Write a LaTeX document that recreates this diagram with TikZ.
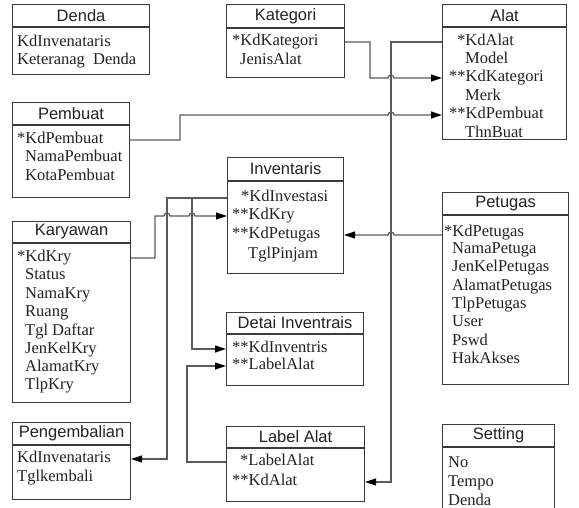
\documentclass[tikz,border=0pt]{standalone}
\usepackage{fontspec}
\setmainfont{Liberation Serif}
\newfontfamily\hdrfont{Liberation Sans}
\usetikzlibrary{arrows.meta,calc}

\definecolor{boxc}{HTML}{3A3A3A}
\definecolor{linec}{HTML}{5A5A5A}
\definecolor{txtc}{HTML}{222222}

\tikzset{
  ent/.style={draw=boxc, line width=1.1pt, inner sep=0pt, anchor=north west, fill=white},
  rule/.style={draw=boxc, line width=1.1pt},
  hdr/.style={font=\hdrfont\fontsize{16.5}{18}\selectfont, text=txtc, inner sep=0pt},
  fld/.style={font=\fontsize{16.5}{18}\selectfont, text=txtc, anchor=west, inner sep=0pt,
              text height=11pt, text depth=4pt},
  conn/.style={draw=linec, line width=1.2pt},
  tip/.style={-{Triangle[length=11pt,width=7pt,color=black]}}
}

% table box: name, left, top, width, height, header height, title
\newcommand\erbox[7]{%
  \node[ent, minimum width=#4, minimum height=#5] (#1) at (#2,#3) {};
  \draw[rule] ([yshift=-#6pt]#1.north west) -- ([yshift=-#6pt]#1.north east);
  \node[hdr] (#1-title) at ($(#1.north)+(0,#6/2)$) {#7};
}

\begin{document}
\begin{tikzpicture}[x=1pt,y=-1pt]
\useasboundingbox (0,0) rectangle (579,508);
\fill[white] (0,0) rectangle (579,508);

% x positions of the vertical connector runs
\coordinate (xK)  at (370,0);
\coordinate (xA)  at (391,0);
\coordinate (xP)  at (180,0);
\coordinate (xKr) at (155,0);
\coordinate (xI1) at (167,0);
\coordinate (xI2) at (192,0);
\coordinate (xL)  at (187,0);

% ---------- tables ----------
\erbox{denda}{12}{4}{137}{70}{23}{Denda}
\node[fld] (den1) at (17,43) {KdInvenataris};
\node[fld] (den2) at (17,61) {Keteranag\ \ Denda};

\erbox{kategori}{226}{4}{118}{73}{24}{Kategori}
\node[fld] (kat1) at (232,42) {*KdKategori};
\node[fld] (kat2) at (240,61) {JenisAlat};

\erbox{alat}{442}{4}{124}{135}{23}{Alat}
\node[fld] (alat1) at (457,42)  {*KdAlat};
\node[fld] (alat2) at (465,60)  {Model};
\node[fld] (alat3) at (449,78)  {**KdKategori};
\node[fld] (alat4) at (465,97)  {Merk};
\node[fld] (alat5) at (449,115) {**KdPembuat};
\node[fld] (alat6) at (465,134) {ThnBuat};

\erbox{pembuat}{12}{102}{117}{95}{23}{Pembuat}
\node[fld] (pem1) at (17,140) {*KdPembuat};
\node[fld] (pem2) at (25,158) {NamaPembuat};
\node[fld] (pem3) at (25,177) {KotaPembuat};

\erbox{inventaris}{227}{157}{116}{116}{24}{Inventaris}
\node[fld] (inv1) at (241,198) {*KdInvestasi};
\node[fld] (inv2) at (232,216) {**KdKry};
\node[fld] (inv3) at (232,235) {**KdPetugas};
\node[fld] (inv4) at (248,255) {TglPinjam};

\erbox{karyawan}{12}{221}{118}{181}{22}{Karyawan}
\node[fld] (kar1) at (17,258) {*KdKry};
\node[fld] (kar2) at (25,276) {Status};
\node[fld] (kar3) at (25,295) {NamaKry};
\node[fld] (kar4) at (25,313) {Ruang};
\node[fld] (kar5) at (25,332) {Tgl Daftar};
\node[fld] (kar6) at (25,350) {JenKelKry};
\node[fld] (kar7) at (25,368) {AlamatKry};
\node[fld] (kar8) at (25,386) {TlpKry};

\erbox{petugas}{442}{192}{126}{192}{23}{Petugas}
\node[fld] (pet1) at (444,233) {*KdPetugas};
\node[fld] (pet2) at (452,250) {NamaPetuga};
\node[fld] (pet3) at (452,268) {JenKelPetugas};
\node[fld] (pet4) at (452,287) {AlamatPetugas};
\node[fld] (pet5) at (452,305) {TlpPetugas};
\node[fld] (pet6) at (452,323) {User};
\node[fld] (pet7) at (452,342) {Pswd};
\node[fld] (pet8) at (452,360) {HakAkses};

\erbox{detail}{226}{312}{137}{73}{22}{Detai Inventrais}
\node[fld] (det1) at (232,349) {**KdInventris};
\node[fld] (det2) at (232,366) {**LabelAlat};

\erbox{label}{226}{426}{138}{75}{22}{Label Alat}
\node[fld] (lab1) at (240,462) {*LabelAlat};
\node[fld] (lab2) at (232,482) {**KdAlat};

\erbox{pengembalian}{12}{422}{118}{77}{23}{Pengembalian}
\node[fld] (pen1) at (17,459) {KdInvenataris};
\node[fld] (pen2) at (17,478) {Tglkembali};

\erbox{setting}{442}{424}{112}{100}{23}{Setting}
\node[fld] (set1) at (448,464) {No};
\node[fld] (set2) at (448,483) {Tempo};
\node[fld] (set3) at (448,502) {Denda};

% ---------- relations ----------
% Kategori -> Alat
\draw[conn,tip] (kategori.east |- kat1) -| (xK |- alat3)
  -- ($(xA |- alat3)+(-3,0)$) arc[start angle=180,end angle=0,radius=3pt]
  -- (alat.west |- alat3);
% Pembuat -> Alat
\draw[conn,tip] (pembuat.east |- pem1) -| (xP |- alat5)
  -- ($(xA |- alat5)+(-3,0)$) arc[start angle=180,end angle=0,radius=3pt]
  -- (alat.west |- alat5);
% Alat -> Label Alat
\draw[conn,tip] (alat.west |- alat1) -| (xA |- lab2) -- (label.east |- lab2);
% Petugas -> Inventaris
\draw[conn,tip] (petugas.west |- inv3)
  -- ($(xA |- inv3)+(3,0)$) arc[start angle=0,end angle=180,radius=3pt]
  -- (inventaris.east |- inv3);
% Karyawan -> Inventaris
\draw[conn,tip] (karyawan.east |- kar1) -| (xKr |- inv2)
  -- ($(xI1 |- inv2)+(-3,0)$) arc[start angle=180,end angle=0,radius=3pt]
  -- ($(xI2 |- inv2)+(-3,0)$) arc[start angle=180,end angle=0,radius=3pt]
  -- (inventaris.west |- inv2);
% Inventaris -> Pengembalian
\draw[conn,tip] (inventaris.west |- inv1) -| (xI1 |- pen1) -- (pengembalian.east |- pen1);
% Inventaris -> Detai Inventrais
\draw[conn,tip] (inventaris.west |- inv1) -| (xI2 |- det1) -- (detail.west |- det1);
% Label Alat -> Detai Inventrais
\draw[conn,tip] (label.west |- lab1) -| (xL |- det2) -- (detail.west |- det2);
\end{tikzpicture}
\end{document}
